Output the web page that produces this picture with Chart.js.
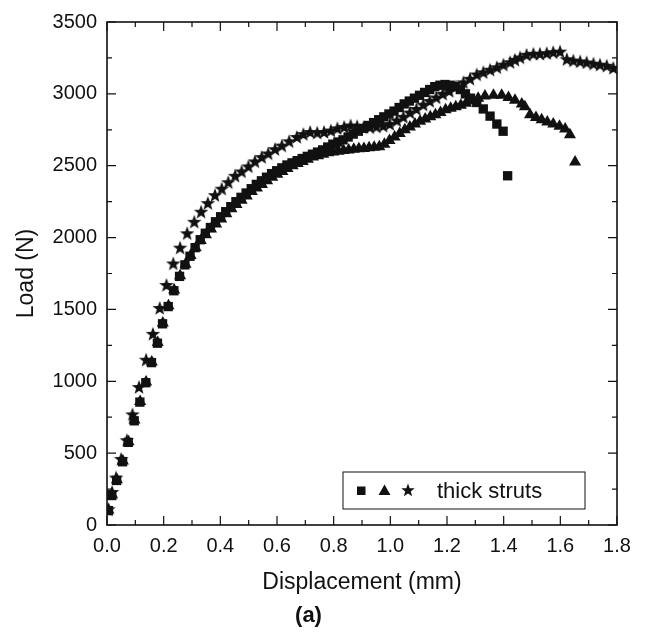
<!DOCTYPE html>
<html>
<head>
<meta charset="utf-8">
<script src="https://cdn.jsdelivr.net/npm/chart.js@4.4.1/dist/chart.umd.min.js"></script>
<style>
  html, body { margin: 0; padding: 0; background: #fff; }
  #wrap { width: 645px; height: 632px; }
</style>
</head>
<body>
<div id="wrap"><canvas id="myChart" width="645" height="632"></canvas></div>
<script>
// displacement (mm) / load (N)
const sqX = [0.005, 0.017, 0.034, 0.055, 0.075, 0.096, 0.116, 0.137, 0.157, 0.178, 0.196, 0.216, 0.236, 0.256, 0.275,
  0.293, 0.311, 0.329, 0.347, 0.365, 0.383, 0.401, 0.419, 0.437, 0.455, 0.473, 0.491, 0.509, 0.527, 0.545,
  0.563, 0.581, 0.599, 0.617, 0.635, 0.653, 0.671, 0.689, 0.707, 0.725, 0.743, 0.761, 0.779, 0.797, 0.815,
  0.833, 0.851, 0.869, 0.887, 0.905, 0.923, 0.941, 0.959, 0.977, 0.995, 1.013, 1.031, 1.049, 1.067, 1.085,
  1.103, 1.121, 1.139, 1.157, 1.175, 1.193, 1.211, 1.229, 1.247, 1.265, 1.283, 1.305, 1.328, 1.352, 1.376,
  1.398, 1.414]
const sqY = [100, 205, 310, 440, 575, 725, 855, 990, 1130, 1265, 1400, 1520, 1630, 1730, 1810,
  1870, 1930, 1985, 2030, 2070, 2110, 2145, 2180, 2215, 2250, 2280, 2310, 2340, 2370, 2395,
  2420, 2445, 2465, 2485, 2505, 2520, 2535, 2550, 2565, 2580, 2595, 2610, 2630, 2650, 2665,
  2680, 2700, 2720, 2740, 2760, 2780, 2800, 2820, 2840, 2860, 2880, 2905, 2930, 2950, 2970,
  2990, 3010, 3030, 3050, 3060, 3065, 3060, 3050, 3030, 3000, 2970, 2940, 2895, 2845, 2790,
  2740, 2430]

const triX = [0.005, 0.018, 0.035, 0.056, 0.076, 0.097, 0.117, 0.138, 0.158, 0.179, 0.197, 0.217, 0.237, 0.258, 0.277,
  0.295, 0.313, 0.331, 0.349, 0.367, 0.385, 0.403, 0.421, 0.439, 0.457, 0.475, 0.493, 0.511, 0.529, 0.547,
  0.565, 0.583, 0.601, 0.619, 0.637, 0.655, 0.673, 0.691, 0.709, 0.727, 0.745, 0.763, 0.781, 0.799, 0.817,
  0.835, 0.853, 0.871, 0.889, 0.907, 0.925, 0.943, 0.961, 0.979, 0.997, 1.015, 1.033, 1.051, 1.069, 1.087,
  1.105, 1.123, 1.141, 1.159, 1.177, 1.195, 1.213, 1.231, 1.249, 1.267, 1.285, 1.31, 1.334, 1.364, 1.393,
  1.417, 1.44, 1.464, 1.475, 1.493, 1.514, 1.534, 1.554, 1.575, 1.597, 1.617, 1.634, 1.652]
const triY = [105, 210, 315, 445, 580, 730, 860, 995, 1135, 1270, 1405, 1525, 1635, 1735, 1815,
  1875, 1930, 1980, 2020, 2060, 2095, 2130, 2165, 2200, 2230, 2260, 2290, 2320, 2345, 2370,
  2395, 2420, 2440, 2460, 2480, 2500, 2515, 2530, 2545, 2560, 2570, 2580, 2590, 2595, 2600,
  2605, 2610, 2615, 2618, 2620, 2625, 2628, 2632, 2650, 2675, 2700, 2725, 2750, 2770, 2790,
  2810, 2825, 2840, 2855, 2870, 2890, 2900, 2910, 2920, 2935, 2950, 2970, 2985, 2990, 2990,
  2975, 2955, 2930, 2910, 2855, 2835, 2820, 2805, 2790, 2775, 2755, 2715, 2525]

const starX = [0.005, 0.018, 0.032, 0.05, 0.07, 0.09, 0.113, 0.138, 0.162, 0.186, 0.21, 0.234, 0.258, 0.283, 0.308,
  0.332, 0.356, 0.381, 0.405, 0.428, 0.452, 0.475, 0.499, 0.522, 0.546, 0.569, 0.593, 0.617, 0.643, 0.67,
  0.693, 0.717, 0.742, 0.766, 0.79, 0.813, 0.837, 0.86, 0.883, 0.906, 0.928, 0.951, 0.975, 0.998, 1.023,
  1.046, 1.069, 1.092, 1.116, 1.139, 1.162, 1.185, 1.208, 1.231, 1.258, 1.281, 1.305, 1.328, 1.352, 1.376,
  1.399, 1.423, 1.44, 1.458, 1.481, 1.505, 1.528, 1.552, 1.575, 1.599, 1.623, 1.646, 1.67, 1.693, 1.717,
  1.74, 1.764, 1.787]
const starY = [110, 230, 330, 460, 590, 770, 960, 1150, 1330, 1510, 1670, 1820, 1930, 2030, 2110,
  2180, 2240, 2295, 2340, 2385, 2430, 2460, 2495, 2530, 2560, 2585, 2615, 2640, 2670, 2700,
  2720, 2735, 2730, 2735, 2745, 2760, 2770, 2780, 2775, 2770, 2768, 2772, 2778, 2790, 2815,
  2840, 2870, 2895, 2925, 2950, 2975, 3000, 3020, 3050, 3080, 3105, 3135, 3150, 3168, 3185,
  3203, 3220, 3237, 3253, 3272, 3279, 3279, 3283, 3290, 3294, 3241, 3232, 3226, 3219, 3210,
  3203, 3196, 3180]

const legendText = 'thick struts'
const FONT = '"Liberation Sans", Arial, Helvetica, sans-serif'
const INK = '#111'

function pts(xs, ys) {
  return xs.map(function(x, i) { return {x: x, y: ys[i]} })
}

function starPath(ctx, cx, cy, ro, ri) {
  ctx.beginPath()
  for (let k = 0; k < 10; k++) {
    const r = k % 2 == 0 ? ro : ri
    const a = -Math.PI / 2 + k * Math.PI / 5
    if (k == 0) ctx.moveTo(cx + r * Math.cos(a), cy + r * Math.sin(a))
    else ctx.lineTo(cx + r * Math.cos(a), cy + r * Math.sin(a))
  }
  ctx.closePath()
}

// filled 5 point star, chart.js 'star' is just crossed lines
const starImg = document.createElement('canvas')
starImg.width = 16
starImg.height = 16
let sctx = starImg.getContext('2d')
sctx.fillStyle = INK
starPath(sctx, 8, 8.6, 7.6, 3.1)
sctx.fill()

// frame on all four sides, ticks pointing inward
const framePlugin = {
  id: 'frame',
  afterDraw(chart) {
    const ctx = chart.ctx
    const a = chart.chartArea
    const xs = chart.scales.x, ys = chart.scales.y
    ctx.save()
    ctx.strokeStyle = INK
    ctx.lineWidth = 1.6
    ctx.strokeRect(a.left, a.top, a.right - a.left, a.bottom - a.top)
    ctx.lineWidth = 1.2
    ctx.beginPath()
    for (let i = 0; i <= 18; i++) {
      const px = xs.getPixelForValue(i * 0.1)
      const len = i % 2 == 0 ? 9 : 5
      ctx.moveTo(px, a.bottom); ctx.lineTo(px, a.bottom - len)
      ctx.moveTo(px, a.top); ctx.lineTo(px, a.top + len)
    }
    for (let j = 0; j <= 14; j++) {
      const py = ys.getPixelForValue(j * 250)
      const len = j % 2 == 0 ? 9 : 5
      ctx.moveTo(a.left, py); ctx.lineTo(a.left + len, py)
      ctx.moveTo(a.right, py); ctx.lineTo(a.right - len, py)
    }
    ctx.stroke()

    // legend box, lower right
    const bw = 242, bh = 37
    const bx = a.right - 32 - bw
    const by = a.bottom - 16 - bh
    const cy = by + bh / 2
    ctx.lineWidth = 1
    ctx.strokeRect(bx, by, bw, bh)
    ctx.fillStyle = INK
    ctx.fillRect(bx + 14, cy - 4, 8.5, 8.5)
    ctx.beginPath()
    ctx.moveTo(bx + 41.5, cy - 6)
    ctx.lineTo(bx + 47.5, cy + 4.5)
    ctx.lineTo(bx + 35.5, cy + 4.5)
    ctx.closePath()
    ctx.fill()
    starPath(ctx, bx + 65, cy, 7, 2.9)
    ctx.fill()
    ctx.font = '22px ' + FONT
    ctx.textBaseline = 'middle'
    ctx.textAlign = 'left'
    ctx.fillText(legendText, bx + 94, cy + 1)
    ctx.restore()
  }
}

const config = {
  type: 'scatter',
  data: {
    datasets: [
      {
        label: 'squares',
        data: pts(sqX, sqY),
        pointStyle: 'rect',
        pointRadius: 6.6,
        backgroundColor: INK,
        borderWidth: 0
      },
      {
        label: 'triangles',
        data: pts(triX, triY),
        pointStyle: 'triangle',
        pointRadius: 7,
        backgroundColor: INK,
        borderWidth: 0
      },
      {
        label: 'stars',
        data: pts(starX, starY),
        pointStyle: starImg,
        pointRadius: 7,
        backgroundColor: INK
      }
    ]
  },
  options: {
    responsive: false,
    animation: false,
    devicePixelRatio: 1,
    layout: { padding: { left: 0, top: 15, right: 28, bottom: 0 } },
    plugins: {
      legend: { display: false },
      tooltip: { enabled: false },
      title: {
        display: true,
        position: 'bottom',
        text: '(a)',
        color: INK,
        font: { family: FONT, size: 22, weight: 'bold', lineHeight: 1.2 },
        padding: { top: 0, bottom: 3 }
      }
    },
    scales: {
      x: {
        type: 'linear',
        min: 0,
        max: 1.8,
        afterFit: function(scale) { scale.height = 77.6 },
        ticks: {
          stepSize: 0.2,
          padding: 9,
          color: INK,
          font: { family: FONT, size: 20 },
          maxRotation: 0,
          callback: function(v) { return v.toFixed(1) }
        },
        grid: { drawOnChartArea: false, drawTicks: false },
        border: { display: false },
        title: {
          display: true,
          text: 'Displacement (mm)',
          color: INK,
          font: { family: FONT, size: 23, lineHeight: 1.2 },
          padding: { top: 0, bottom: 6 }
        }
      },
      y: {
        min: 0,
        max: 3500,
        afterFit: function(scale) { scale.width = 107 },
        ticks: {
          stepSize: 500,
          padding: 10,
          color: INK,
          font: { family: FONT, size: 20 },
          callback: function(v) { return String(v) }
        },
        grid: { drawOnChartArea: false, drawTicks: false },
        border: { display: false },
        title: {
          display: true,
          text: 'Load (N)',
          color: INK,
          font: { family: FONT, size: 23, lineHeight: 1.2 },
          padding: { top: 13, bottom: 0 }
        }
      }
    }
  },
  plugins: [framePlugin]
}

var chart = new Chart(document.getElementById('myChart'), config)
</script>
</body>
</html>
